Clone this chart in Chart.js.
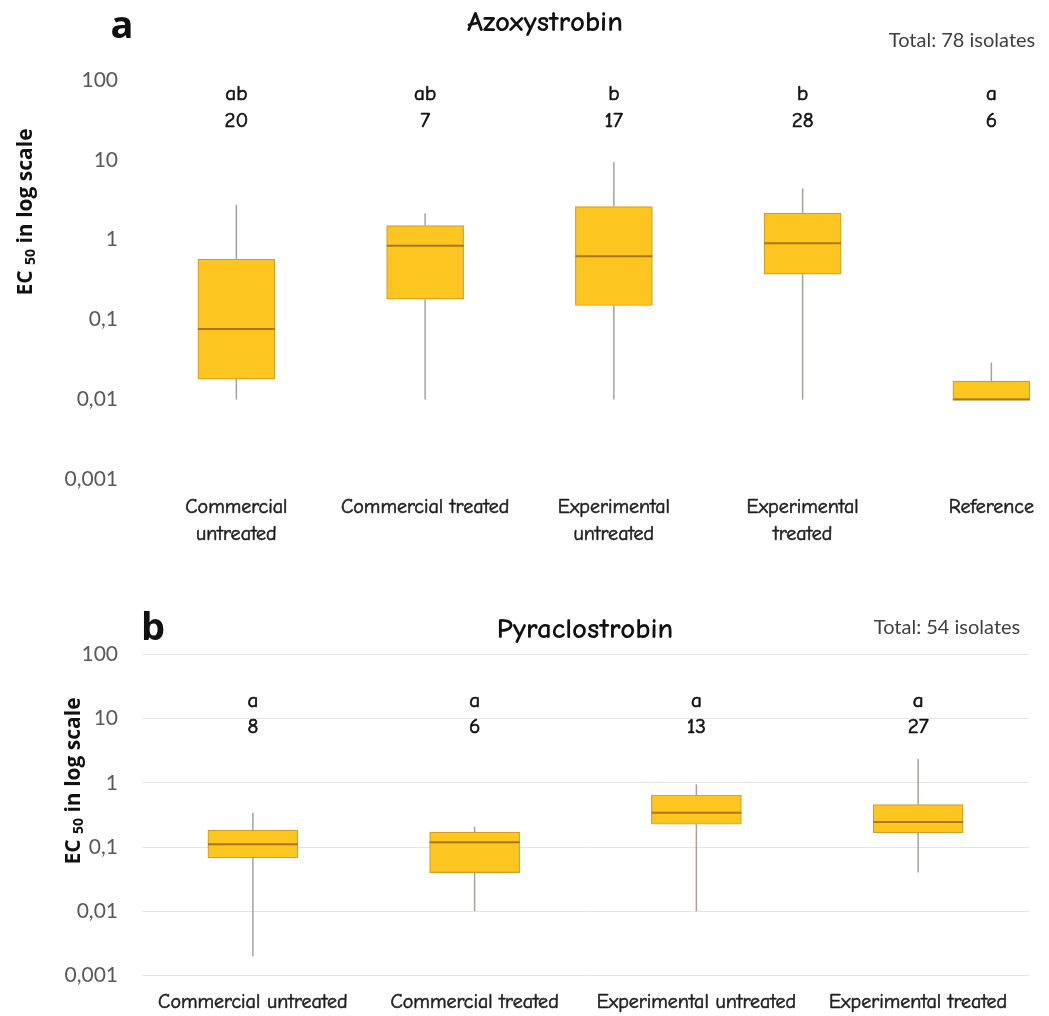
<!DOCTYPE html>
<html>
<head>
<meta charset="utf-8">
<script src="https://cdn.jsdelivr.net/npm/chart.js@4.4.1/dist/chart.umd.min.js"></script>
<style>
  html, body { margin: 0; padding: 0; background: #ffffff; overflow: hidden; }
  .panel { position: absolute; left: 0; width: 1049px; }
  #wrapA { top: 0; height: 570px; }
  #wrapB { top: 575px; height: 441px; }
</style>
</head>
<body>
<div id="wrapA" class="panel"><canvas id="chartA"></canvas></div>
<div id="wrapB" class="panel"><canvas id="chartB"></canvas></div>
<script>
// ---- Azoxystrobin: EC50 summary per isolate group ----
const azoCategories = [['Commercial', 'untreated'], 'Commercial treated', ['Experimental', 'untreated'], ['Experimental', 'treated'], 'Reference'];
const azoMin    = [0.01,  0.01, 0.01, 0.01, 0.01];
const azoQ1     = [0.018, 0.18, 0.15, 0.37, 0.01];
const azoMedian = [0.076, 0.84, 0.62, 0.9,  0.01];
const azoQ3     = [0.57,  1.5,  2.6,  2.15, 0.017];
const azoMax    = [2.75,  2.15, 9.4,  4.4,  0.029];
const azoGroups = ['ab', 'ab', 'b', 'b', 'a'];
const azoCounts = ['20', '7', '17', '28', '6'];

// ---- Pyraclostrobin: EC50 summary per isolate group ----
const pyrCategories = ['Commercial untreated', 'Commercial treated', 'Experimental untreated', 'Experimental treated'];
const pyrMin    = [0.002, 0.01,  0.01,  0.04];
const pyrQ1     = [0.068, 0.04,  0.226, 0.167];
const pyrMedian = [0.11,  0.119, 0.343, 0.245];
const pyrQ3     = [0.184, 0.171, 0.646, 0.456];
const pyrMax    = [0.343, 0.207, 0.95,  2.35];
const pyrGroups = ['a', 'a', 'a', 'a'];
const pyrCounts = ['8', '6', '13', '27'];

// ---- shared log axis ----
const yTickValues = [0.001, 0.01, 0.1, 1, 10, 100];
const yTickLabels = ['0,001', '0,01', '0,1', '1', '10', '100'];

const HAND = '"Comic Sans MS", "Comic Neue", "DejaVu Sans", sans-serif';
const SANS = 'Lato, "Open Sans", sans-serif';

const BOX_FILL = '#FCC520';
const BOX_EDGE = '#D29E26';
const MEDIAN_COLOR = '#A87719';
const WHISKER_COLOR = '#A8A19B';

function boxPlugin(id, stats) {
  return {
    id: id,
    beforeDatasetsDraw(chart) {
      const ctx = chart.ctx, y = chart.scales.y;
      const meta = chart.getDatasetMeta(0);
      ctx.save();
      ctx.strokeStyle = WHISKER_COLOR;
      ctx.lineWidth = 1.5;
      meta.data.forEach((bar, i) => {
        ctx.beginPath();
        ctx.moveTo(bar.x, y.getPixelForValue(stats.max[i]));
        ctx.lineTo(bar.x, y.getPixelForValue(stats.q3[i]));
        ctx.moveTo(bar.x, y.getPixelForValue(stats.q1[i]));
        ctx.lineTo(bar.x, y.getPixelForValue(stats.min[i]));
        ctx.stroke();
      });
      ctx.restore();
    },
    afterDatasetsDraw(chart) {
      const ctx = chart.ctx, y = chart.scales.y;
      const meta = chart.getDatasetMeta(0);
      ctx.save();
      ctx.strokeStyle = MEDIAN_COLOR;
      ctx.lineWidth = 2;
      meta.data.forEach((bar, i) => {
        const py = y.getPixelForValue(stats.median[i]);
        ctx.beginPath();
        ctx.moveTo(bar.x - bar.width / 2, py);
        ctx.lineTo(bar.x + bar.width / 2, py);
        ctx.stroke();
      });
      ctx.restore();
    }
  };
}

function textPlugin(id, t) {
  return {
    id: id,
    afterDraw(chart) {
      const ctx = chart.ctx, area = chart.chartArea;
      const meta = chart.getDatasetMeta(0);
      ctx.save();
      ctx.textBaseline = 'alphabetic';
      // significance letters and group sizes
      ctx.fillStyle = '#111111';
      ctx.strokeStyle = '#111111';
      ctx.lineWidth = 0.7;
      ctx.textAlign = 'center';
      ctx.font = '21px ' + HAND;
      meta.data.forEach((bar, i) => {
        ctx.fillText(t.groups[i], bar.x, area.top + t.groupDy);
        ctx.strokeText(t.groups[i], bar.x, area.top + t.groupDy);
        ctx.fillText(t.counts[i], bar.x, area.top + t.countDy);
        ctx.strokeText(t.counts[i], bar.x, area.top + t.countDy);
      });
      // panel letter
      ctx.font = 'bold 38px "Open Sans", sans-serif';
      ctx.fillText(t.panel, t.panelX, t.panelY);
      // compound name
      ctx.font = 'bold 29px ' + HAND;
      ctx.fillText(t.title, t.titleX, t.titleY);
      // isolate total
      ctx.fillStyle = '#404040';
      ctx.font = '20px ' + SANS;
      ctx.fillText(t.total, t.totalX, t.totalY);
      // rotated axis title with subscript
      ctx.translate(t.axisX, t.axisY);
      ctx.rotate(-Math.PI / 2);
      ctx.fillStyle = '#111111';
      ctx.textAlign = 'left';
      ctx.textBaseline = 'middle';
      const big = 'bold 21px "Open Sans", sans-serif';
      const small = 'bold 14px "Open Sans", sans-serif';
      const parts = [['EC ', big, 0], ['50', small, 5], [' in log scale', big, 0]];
      let total = 0;
      parts.forEach(p => { ctx.font = p[1]; total += ctx.measureText(p[0]).width; });
      let x = -total / 2;
      parts.forEach(p => {
        ctx.font = p[1];
        ctx.fillText(p[0], x, p[2]);
        x += ctx.measureText(p[0]).width;
      });
      ctx.restore();
    }
  };
}

function makePanel(canvasId, o) {
  const points = o.categories.map((_, i) => ({ x: i, y: [o.q1[i], o.q3[i]] }));
  return new Chart(document.getElementById(canvasId), {
    type: 'bar',
    data: {
      datasets: [{
        data: points,
        backgroundColor: BOX_FILL,
        borderColor: BOX_EDGE,
        borderWidth: 1.2,
        borderSkipped: false,
        barThickness: o.barThickness
      }]
    },
    options: {
      responsive: true,
      maintainAspectRatio: false,
      animation: false,
      layout: { padding: { top: o.padTop, right: o.padRight, bottom: 0, left: 0 } },
      plugins: { legend: { display: false }, tooltip: { enabled: false }, title: { display: false } },
      scales: {
        x: {
          type: 'linear',
          offset: false,
          bounds: 'data',
          min: -0.5,
          max: o.xMax,
          afterFit: s => { s.height = o.xHeight; },
          afterBuildTicks: s => { s.ticks = o.categories.map((_, i) => ({ value: i })); },
          grid: { display: false, drawTicks: false, offset: false },
          border: { display: false },
          ticks: {
            autoSkip: false,
            maxRotation: 0,
            padding: o.xPad,
            color: '#1e1e1e',
            textStrokeColor: '#1e1e1e',
            textStrokeWidth: 0.6,
            font: { family: HAND, size: 20, lineHeight: o.xLineHeight },
            callback: (v) => o.categories[v]
          }
        },
        y: {
          type: 'logarithmic',
          min: 0.001,
          max: 100,
          afterFit: s => { s.width = 142; },
          afterBuildTicks: s => { s.ticks = yTickValues.map(v => ({ value: v })); },
          grid: { display: o.grid, color: '#E4E4E4', lineWidth: 1, drawTicks: false },
          border: { display: false },
          ticks: {
            padding: 24,
            color: '#595959',
            font: { family: SANS, size: 21 },
            callback: (v, i) => yTickLabels[i]
          }
        }
      }
    },
    plugins: [
      boxPlugin(canvasId + 'Box', { min: o.min, q1: o.q1, median: o.median, q3: o.q3, max: o.max }),
      textPlugin(canvasId + 'Text', o.text)
    ]
  });
}

makePanel('chartA', {
  categories: azoCategories,
  min: azoMin, q1: azoQ1, median: azoMedian, q3: azoQ3, max: azoMax,
  barThickness: 77, padTop: 80, padRight: 0, xHeight: 90.7, xMax: 4.259,
  xPad: 15, xLineHeight: '27px', grid: false,
  text: {
    groups: azoGroups, counts: azoCounts, groupDy: 20, countDy: 47,
    panel: 'a', panelX: 122, panelY: 38,
    title: 'Azoxystrobin', titleX: 545, titleY: 31,
    total: 'Total: 78 isolates', totalX: 962, totalY: 47,
    axisX: 26, axisY: 212
  }
});

makePanel('chartB', {
  categories: pyrCategories,
  min: pyrMin, q1: pyrQ1, median: pyrMedian, q3: pyrQ3, max: pyrMax,
  barThickness: 90, padTop: 79.3, padRight: 20, xHeight: 40.5, xMax: 3.5,
  xPad: 15, xLineHeight: 1.2, grid: true,
  text: {
    groups: pyrGroups, counts: pyrCounts, groupDy: 52.4, countDy: 78.7,
    panel: 'b', panelX: 153, panelY: 65,
    title: 'Pyraclostrobin', titleX: 585, titleY: 63,
    total: 'Total: 54 isolates', totalX: 947, totalY: 59,
    axisX: 74, axisY: 206
  }
});
</script>
</body>
</html>
